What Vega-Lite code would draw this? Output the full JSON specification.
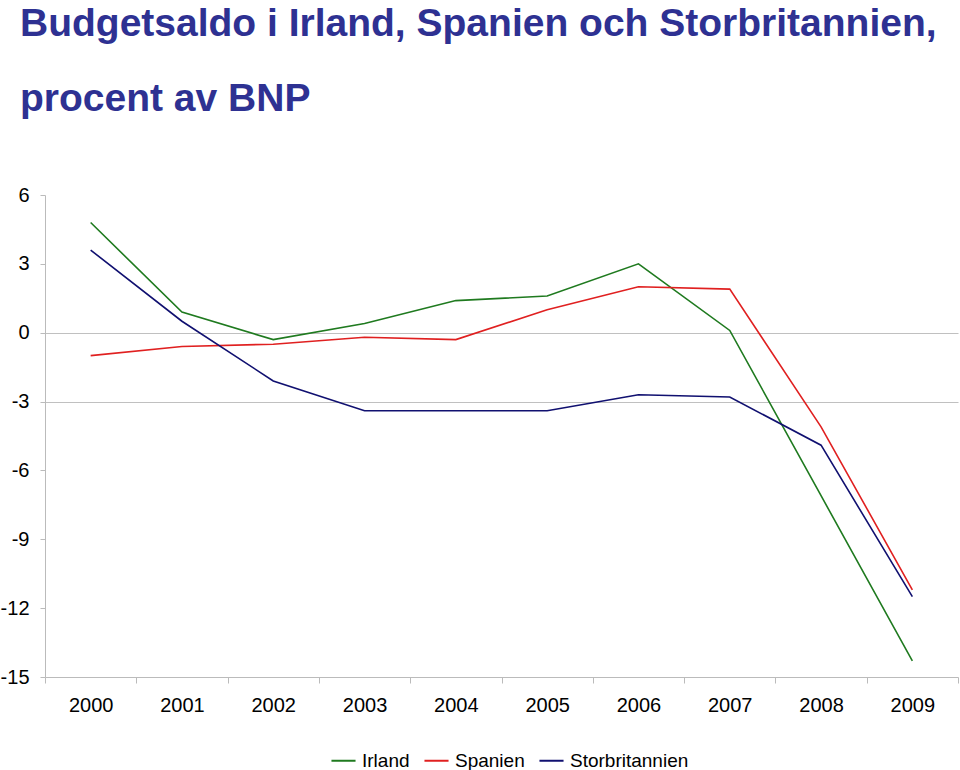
{
  "$schema": "https://vega.github.io/schema/vega-lite/v6.json",
  "width": 913,
  "height": 482,
  "autosize": "none",
  "padding": {"left": 45, "top": 195, "right": 2, "bottom": 93},
  "background": "white",
  "config": {"view": {"stroke": null}},
  "title": {
    "text": ["Budgetsaldo i Irland, Spanien och Storbritannien,", "procent av BNP"],
    "anchor": "start",
    "frame": "group",
    "dx": -25,
    "offset": 66,
    "font": "Liberation Sans",
    "fontSize": 39,
    "fontWeight": "bold",
    "color": "#2e3192",
    "lineHeight": 75
  },
  "data": {
    "values": [
      {"year": "2000", "land": "Irland", "value": 4.8},
      {"year": "2001", "land": "Irland", "value": 0.9},
      {"year": "2002", "land": "Irland", "value": -0.3},
      {"year": "2003", "land": "Irland", "value": 0.4},
      {"year": "2004", "land": "Irland", "value": 1.4},
      {"year": "2005", "land": "Irland", "value": 1.6},
      {"year": "2006", "land": "Irland", "value": 3.0},
      {"year": "2007", "land": "Irland", "value": 0.1},
      {"year": "2008", "land": "Irland", "value": -7.1},
      {"year": "2009", "land": "Irland", "value": -14.3},
      {"year": "2000", "land": "Spanien", "value": -1.0},
      {"year": "2001", "land": "Spanien", "value": -0.6},
      {"year": "2002", "land": "Spanien", "value": -0.5},
      {"year": "2003", "land": "Spanien", "value": -0.2},
      {"year": "2004", "land": "Spanien", "value": -0.3},
      {"year": "2005", "land": "Spanien", "value": 1.0},
      {"year": "2006", "land": "Spanien", "value": 2.0},
      {"year": "2007", "land": "Spanien", "value": 1.9},
      {"year": "2008", "land": "Spanien", "value": -4.1},
      {"year": "2009", "land": "Spanien", "value": -11.2},
      {"year": "2000", "land": "Storbritannien", "value": 3.6},
      {"year": "2001", "land": "Storbritannien", "value": 0.5},
      {"year": "2002", "land": "Storbritannien", "value": -2.1},
      {"year": "2003", "land": "Storbritannien", "value": -3.4},
      {"year": "2004", "land": "Storbritannien", "value": -3.4},
      {"year": "2005", "land": "Storbritannien", "value": -3.4},
      {"year": "2006", "land": "Storbritannien", "value": -2.7},
      {"year": "2007", "land": "Storbritannien", "value": -2.8},
      {"year": "2008", "land": "Storbritannien", "value": -4.9},
      {"year": "2009", "land": "Storbritannien", "value": -11.5}
    ]
  },
  "mark": {"type": "line", "strokeWidth": 1.6},
  "encoding": {
    "x": {
      "field": "year",
      "type": "ordinal",
      "bandPosition": 0.5,
      "scale": {"type": "band", "paddingInner": 0, "paddingOuter": 0},
      "axis": {
        "title": null,
        "labelAngle": 0,
        "tickBand": "extent",
        "domainColor": "#bbbbbb",
        "tickColor": "#bbbbbb",
        "tickSize": 6,
        "labelPadding": 12,
        "labelFont": "Liberation Sans",
        "labelFontSize": 20,
        "labelColor": "black",
        "grid": false
      }
    },
    "y": {
      "field": "value",
      "type": "quantitative",
      "scale": {"domain": [-15, 6], "nice": false, "zero": false},
      "axis": {
        "title": null,
        "values": [-15, -12, -9, -6, -3, 0, 3, 6],
        "labelExpr": "'' + datum.value",
        "domainColor": "#bbbbbb",
        "tickColor": "#bbbbbb",
        "tickSize": 5,
        "labelPadding": 11,
        "labelFont": "Liberation Sans",
        "labelFontSize": 20,
        "labelColor": "black",
        "grid": true,
        "gridColor": "#c0c0c0",
        "gridOpacity": {"condition": {"test": "datum.value === 0 || datum.value === -3", "value": 1}, "value": 0}
      }
    },
    "color": {
      "field": "land",
      "type": "nominal",
      "scale": {"domain": ["Irland", "Spanien", "Storbritannien"], "range": ["#1f7a1f", "#e02020", "#101070"]},
      "legend": {
        "title": null,
        "orient": "none",
        "legendX": 285,
        "legendY": 552,
        "padding": 0,
        "direction": "horizontal",
        "symbolType": "stroke",
        "symbolSize": 580,
        "symbolStrokeWidth": 2,
        "labelFont": "Liberation Sans",
        "labelFontSize": 19,
        "labelColor": "black",
        "columnPadding": 10,
        "labelOffset": 5
      }
    }
  }
}
